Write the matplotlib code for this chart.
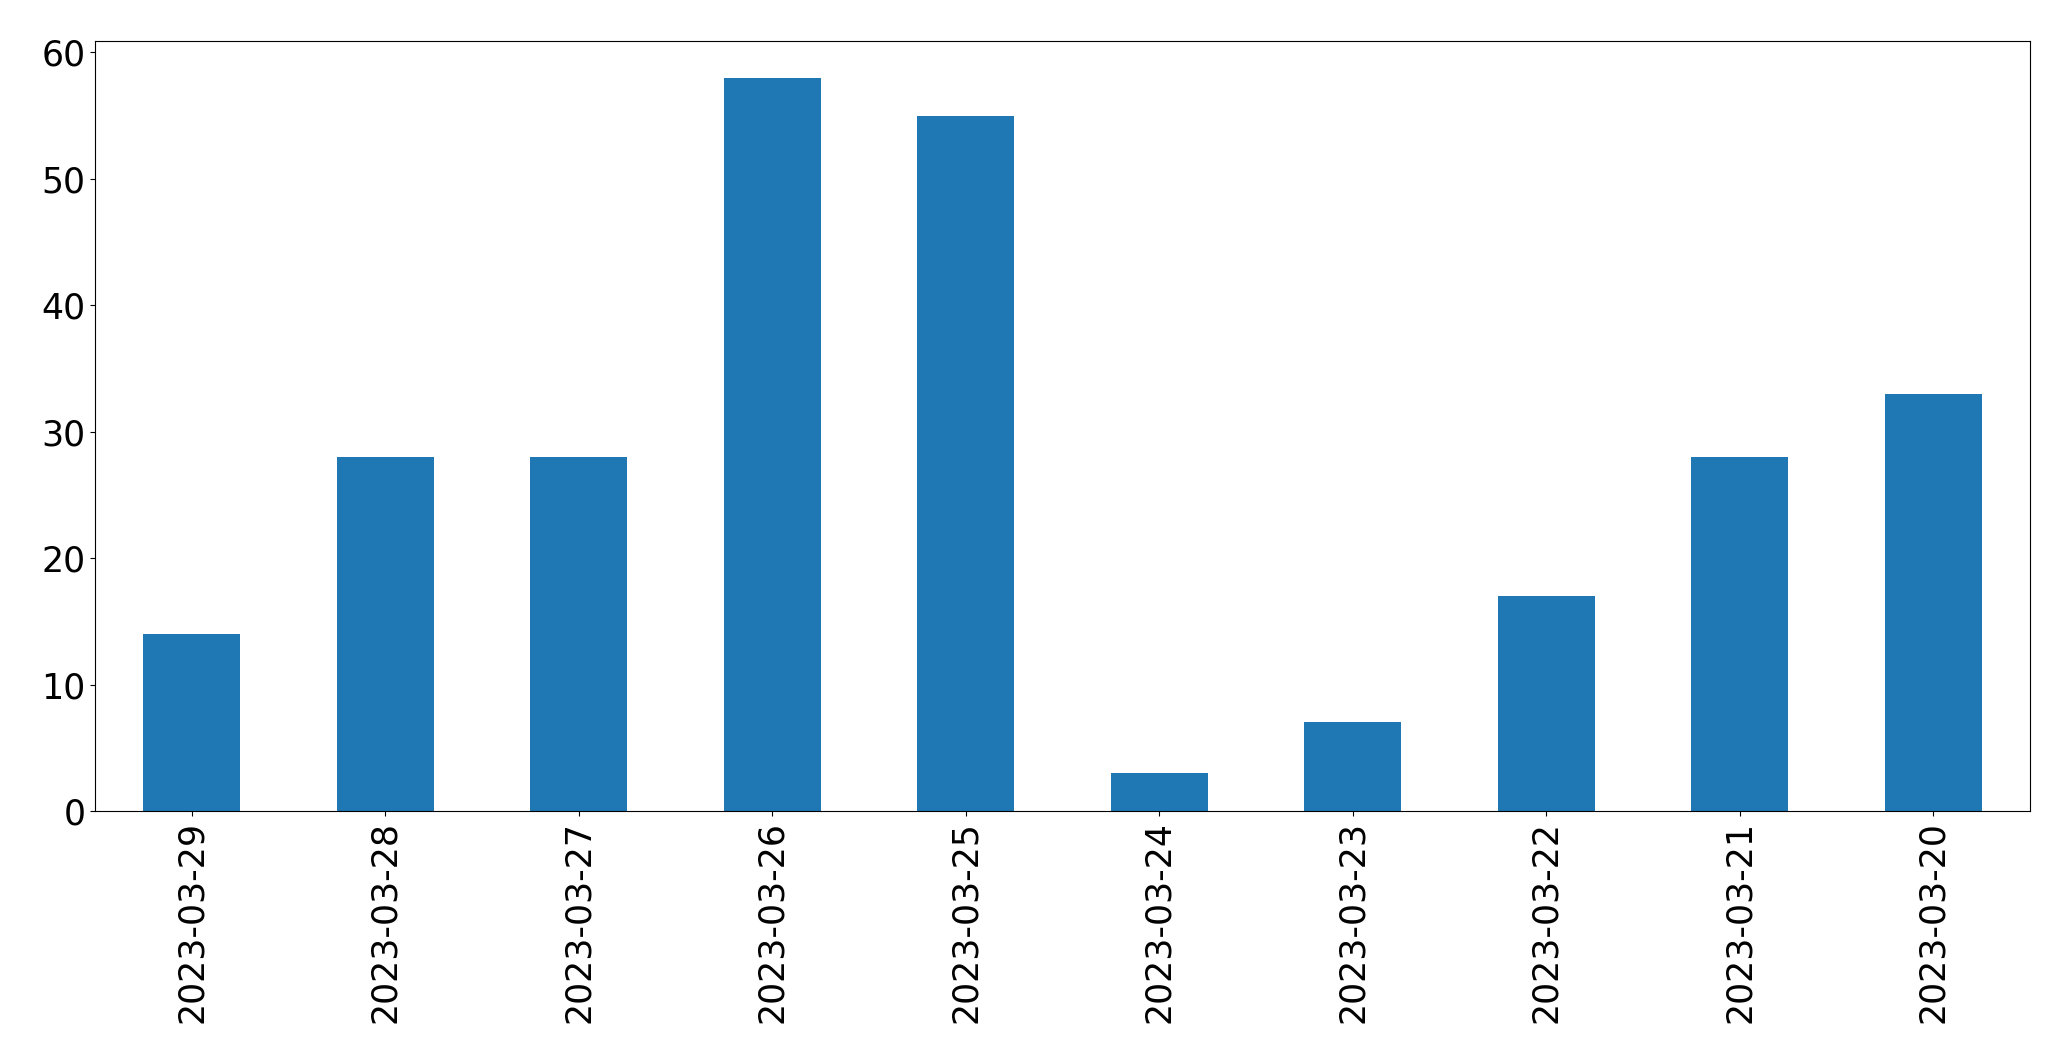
import matplotlib
matplotlib.use("Agg")
import matplotlib.pyplot as plt
import numpy as np

dates = ["2023-03-29", "2023-03-28", "2023-03-27", "2023-03-26", "2023-03-25",
         "2023-03-24", "2023-03-23", "2023-03-22", "2023-03-21", "2023-03-20"]
counts = [14, 28, 28, 58, 55, 3, 7, 17, 28, 33]

fig = plt.figure(figsize=(20.71, 10.63), dpi=100)
ax = fig.add_axes([95/2071, 1 - 811/1063, (2030-95)/2071, (811-41)/1063])
x = np.arange(len(dates))
ax.bar(x, counts, width=0.5, color="#1f77b4")
ax.set_xlim(-0.5, len(dates) - 0.5)
ax.set_xticks(x)
ax.set_xticklabels(dates, rotation=90)
ax.tick_params(axis="both", labelsize=25)
fig.savefig("out.png", dpi=100)
